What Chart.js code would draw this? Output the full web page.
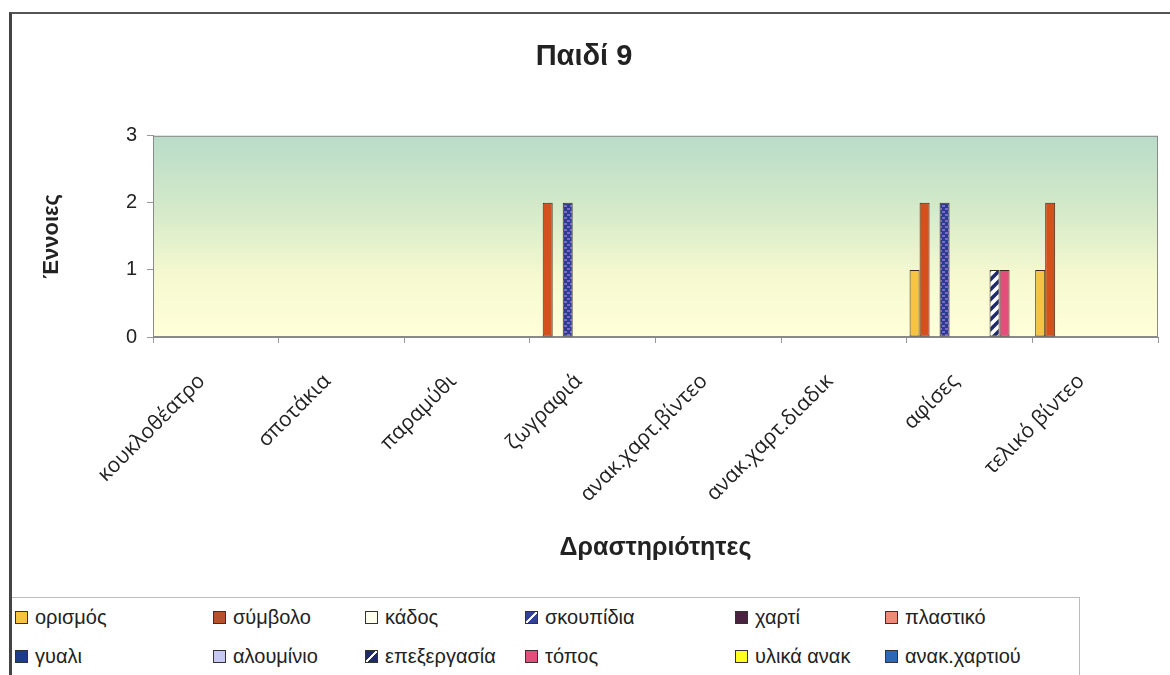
<!DOCTYPE html>
<html>
<head>
<meta charset="utf-8">
<script src="https://cdn.jsdelivr.net/npm/chart.js@4"></script>
<style>
  body { margin: 0; background: #fff; font-family: "Liberation Sans", Arial, sans-serif; }
  #frame { position: absolute; left: 9px; top: 12px; width: 1161px; height: 663px;
           border-left: 3px solid #444; border-top: 2px solid #555; }
  #wrap { position: absolute; left: 0; top: 0; width: 1170px; height: 595px; }
  #legend { position: absolute; left: 12px; top: 597px; width: 1068px; height: 78px;
            border-top: 1px solid #bbb; border-right: 1px solid #bbb;
            display: grid; grid-template-columns: 198px 152px 160px 210px 150px 190px;
            grid-auto-rows: 39px; align-items: center; padding-left: 3px; box-sizing: border-box; }
  .item { font-size: 20px; color: #222; white-space: nowrap; display: flex; align-items: center; }
  .box { width: 11px; height: 11px; border: 1px solid #333; margin-right: 7px; display: inline-block; }
</style>
</head>
<body>
<div id="frame"></div>
<div id="wrap"><canvas id="myChart"></canvas></div>
<div id="legend"></div>
<script>
// data
const categories = ['κουκλοθέατρο', 'σποτάκια', 'παραμύθι', 'ζωγραφιά',
  'ανακ.χαρτ.βίντεο', 'ανακ.χαρτ.διαδικ', 'αφίσες', 'τελικό βίντεο'];

const seriesNames = ['ορισμός', 'σύμβολο', 'κάδος', 'σκουπίδια', 'χαρτί', 'πλαστικό',
  'γυαλι', 'αλουμίνιο', 'επεξεργασία', 'τόπος', 'υλικά ανακ', 'ανακ.χαρτιού'];

const orismos    = [0, 0, 0, 0, 0, 0, 1, 1];
const symvolo    = [0, 0, 0, 2, 0, 0, 2, 2];
const kados      = [0, 0, 0, 0, 0, 0, 0, 0];
const skoupidia  = [0, 0, 0, 2, 0, 0, 2, 0];
const xarti      = [0, 0, 0, 0, 0, 0, 0, 0];
const plastiko   = [0, 0, 0, 0, 0, 0, 0, 0];
const gyali      = [0, 0, 0, 0, 0, 0, 0, 0];
const alouminio  = [0, 0, 0, 0, 0, 0, 0, 0];
const epexergasia= [0, 0, 0, 0, 0, 0, 1, 0];
const topos      = [0, 0, 0, 0, 0, 0, 1, 0];
const ylika      = [0, 0, 0, 0, 0, 0, 0, 0];
const anakXartiou= [0, 0, 0, 0, 0, 0, 0, 0];

const yTicks = [0, 1, 2, 3];

const seriesValues = [orismos, symvolo, kados, skoupidia, xarti, plastiko,
  gyali, alouminio, epexergasia, topos, ylika, anakXartiou];

// patterns
function dotPattern() {
  const c = document.createElement('canvas');
  c.width = 6; c.height = 6;
  const g = c.getContext('2d');
  g.fillStyle = '#2b3c94'; g.fillRect(0, 0, 6, 6);
  g.fillStyle = '#7d68c8';
  g.fillRect(0, 1, 3, 2); g.fillRect(3, 4, 3, 2);
  return g.createPattern(c, 'repeat');
}
function stripePattern() {
  const c = document.createElement('canvas');
  c.width = 10; c.height = 10;
  const g = c.getContext('2d');
  g.fillStyle = '#ffffff'; g.fillRect(0, 0, 10, 10);
  g.strokeStyle = '#1e2a6a'; g.lineWidth = 3.5;
  g.beginPath();
  g.moveTo(-2, 12); g.lineTo(12, -2);
  g.moveTo(-2, 2); g.lineTo(2, -2);
  g.moveTo(8, 12); g.lineTo(12, 8);
  g.stroke();
  return g.createPattern(c, 'repeat');
}

const fills = ['#f6c343', '#d4501e', '#ffffe6', dotPattern(), '#4b2340', '#f08a78',
  '#1e3c8c', '#c8c8f4', stripePattern(), '#e0507a', '#ffff20', '#2a68b8'];
const legendFills = ['#f6c343', '#b8502c', '#ffffee',
  'linear-gradient(135deg, #2f439c 42%, #fff 42%, #fff 58%, #2f439c 58%)',
  '#4b2340', '#f08a78', '#1e3c8c', '#c8c8f4',
  'linear-gradient(135deg, #1e2a6a 42%, #fff 42%, #fff 58%, #1e2a6a 58%)',
  '#e0507a', '#ffff20', '#2a68b8'];

const datasets = seriesNames.map((name, i) => ({
  label: name,
  data: seriesValues[i],
  backgroundColor: fills[i],
  borderColor: '#3a2a1a',
  borderWidth: 1,
  borderSkipped: false,
  categoryPercentage: 0.955,
  barPercentage: 1.0
}));

// plot area background
const plotBg = {
  id: 'plotBg',
  beforeDatasetsDraw(chart) {
    const {ctx, chartArea: a} = chart;
    const grad = ctx.createLinearGradient(0, a.top, 0, a.bottom);
    grad.addColorStop(0, '#b9dcc9');
    grad.addColorStop(0.35, '#d3e9c9');
    grad.addColorStop(0.7, '#f6f9d0');
    grad.addColorStop(1, '#ffffd9');
    ctx.save();
    ctx.fillStyle = grad;
    ctx.fillRect(a.left, a.top, a.right - a.left, a.bottom - a.top);
    ctx.strokeStyle = '#8a8a8a';
    ctx.lineWidth = 1;
    ctx.strokeRect(a.left + 0.5, a.top + 0.5, a.right - a.left - 1, a.bottom - a.top - 1);
    ctx.restore();
  }
};

const config = {
  type: 'bar',
  data: { labels: categories, datasets: datasets },
  options: {
    responsive: true,
    maintainAspectRatio: false,
    animation: false,
    layout: { padding: { left: 10, top: 14, right: 12, bottom: 0 } },
    plugins: {
      legend: { display: false },
      tooltip: { enabled: false },
      title: {
        display: true,
        text: 'Παιδί 9',
        color: '#222',
        font: { family: 'Liberation Sans', size: 29, weight: 'bold' },
        padding: { top: 26, bottom: 61 }
      }
    },
    scales: {
      x: {
        grid: { display: true, drawOnChartArea: false, tickLength: 6, color: '#999', offset: true },
        border: { display: true, color: '#888' },
        ticks: {
          color: '#222',
          font: { family: '"Open Sans"', size: 21 },
          minRotation: 45, maxRotation: 45,
          padding: 26,
          labelOffset: -14,
          autoSkip: false
        },
        title: {
          display: true,
          text: 'Δραστηριότητες',
          color: '#222',
          font: { family: 'Liberation Sans', size: 25, weight: 'bold' },
          padding: { top: 0, bottom: 32 }
        },
        afterFit(scale) { scale.height = 258; }
      },
      y: {
        min: 0, max: 3,
        afterBuildTicks(scale) { scale.ticks = yTicks.map(v => ({ value: v })); },
        grid: { display: true, drawOnChartArea: false, tickLength: 6, color: '#999' },
        border: { display: true, color: '#888' },
        ticks: {
          color: '#222',
          font: { family: 'Liberation Sans', size: 20 },
          padding: 10
        },
        title: {
          display: true,
          text: 'Έννοιες',
          color: '#222',
          font: { family: 'Liberation Sans', size: 22, weight: 'bold' },
          padding: { top: 29, bottom: 0 }
        },
        afterFit(scale) { scale.width = 143; }
      }
    }
  },
  plugins: [plotBg]
};

const myChart = new Chart(document.getElementById('myChart'), config);

// html legend
const legendEl = document.getElementById('legend');
seriesNames.forEach((name, i) => {
  const item = document.createElement('div');
  item.className = 'item';
  const box = document.createElement('span');
  box.className = 'box';
  box.style.background = legendFills[i];
  item.appendChild(box);
  item.appendChild(document.createTextNode(name));
  legendEl.appendChild(item);
});
</script>
</body>
</html>
